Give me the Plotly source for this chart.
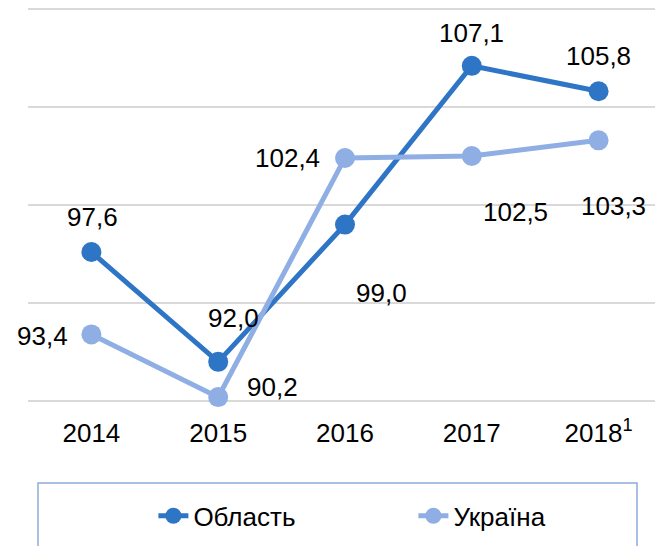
import plotly.graph_objects as go

years = ["2014", "2015", "2016", "2017", "2018"]
tick_labels = ["2014", "2015", "2016", "2017", "2018<sup>1</sup>"]
oblast = [97.6, 92.0, 99.0, 107.1, 105.8]
ukraine = [93.4, 90.2, 102.4, 102.5, 103.3]

# label offsets in pixels (x, y-up) relative to each point
oblast_off = [(1, 35), (15, 44), (37, -68), (0, 33), (0, 35)]
ukraine_off = [(-49, -2), (54, 10), (-57, 0), (44, -56), (15, -66)]

C_OBL = "#2E75C6"
C_UKR = "#8FAEE4"
FONT = "Liberation Sans, Arial, sans-serif"

fig = go.Figure()
fig.add_trace(go.Scatter(x=years, y=oblast, name="Область", mode="lines+markers",
                         line=dict(color=C_OBL, width=5),
                         marker=dict(color=C_OBL, size=20), cliponaxis=False))
fig.add_trace(go.Scatter(x=years, y=ukraine, name="Україна", mode="lines+markers",
                         line=dict(color=C_UKR, width=5),
                         marker=dict(color=C_UKR, size=20), cliponaxis=False))

def fmt(v):
    return f"{v:.1f}".replace(".", ",")

for vals, offs in ((oblast, oblast_off), (ukraine, ukraine_off)):
    for i, (v, (dx, dy)) in enumerate(zip(vals, offs)):
        fig.add_annotation(x=i, y=v, xref="x", yref="y", text=fmt(v), showarrow=False,
                           xshift=dx, yshift=dy,
                           font=dict(size=26, color="#000000", family=FONT))

fig.update_layout(
    width=655, height=546,
    margin=dict(l=28, r=0, t=7, b=143, autoexpand=False),
    paper_bgcolor="white", plot_bgcolor="white",
    font=dict(family=FONT, size=26, color="#000"),
    showlegend=True,
    legend=dict(orientation="h", x=0.2, xanchor="left", y=-0.285, yanchor="middle",
                xref="paper", yref="paper",
                font=dict(size=26, color="#000", family=FONT),
                entrywidth=215, entrywidthmode="pixels", bgcolor="rgba(0,0,0,0)",
                itemsizing="trace"),
    shapes=[dict(type="rect", xref="paper", yref="paper",
                 x0=(38 - 28) / 627, x1=(637 - 28) / 627,
                 y0=(403 - 560) / 396, y1=(403 - 483) / 396,
                 line=dict(color="#8FAADC", width=1.5), fillcolor="rgba(0,0,0,0)", layer="below")],
    xaxis=dict(type="category", range=[-0.5, 4.445], tickvals=years, ticktext=tick_labels,
               showgrid=False, showline=False, zeroline=False,
               ticks="", ticklabelstandoff=12,
               tickfont=dict(size=26, color="#000", family=FONT)),
    yaxis=dict(range=[89.9, 110.1], tickvals=[90, 95, 100, 105, 110], showticklabels=False,
               showgrid=True, gridcolor="#D9D9D9", gridwidth=2, zeroline=False, showline=False),
)

fig.write_html("out.html", config={"displayModeBar": False},
               post_script="document.body.style.margin='0px';")
